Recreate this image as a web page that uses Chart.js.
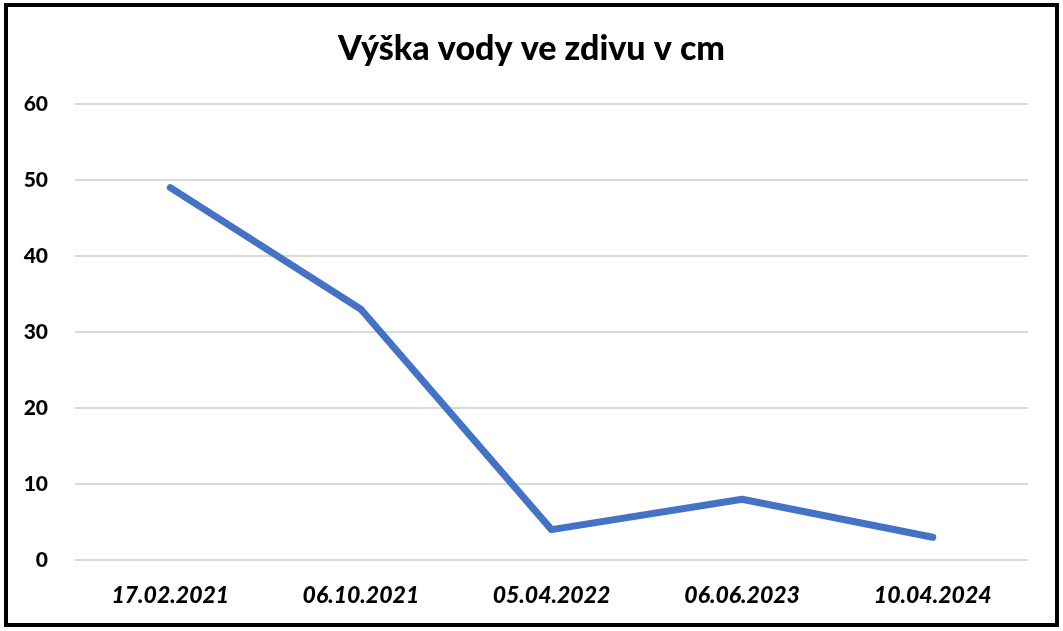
<!DOCTYPE html>
<html>
<head>
<meta charset="utf-8">
<script src="https://cdn.jsdelivr.net/npm/chart.js@4"></script>
<style>
  html, body { margin: 0; padding: 0; background: #fff; }
  #wrap { position: relative; width: 1063px; height: 631px; }
  canvas { position: absolute; left: 0; top: 0; }
  #frame { position: absolute; left: 4px; top: 3px; width: 1055px; height: 624px; box-sizing: border-box; border: 4px solid #000; pointer-events: none; }
</style>
</head>
<body>
<div id="wrap">
  <canvas id="c" width="1063" height="631"></canvas>
  <div id="frame"></div>
</div>
<script>
const chartTitle = "Výška vody ve zdivu v cm";
const categories = ["17.02.2021", "06.10.2021", "05.04.2022", "06.06.2023", "10.04.2024"];
const waterHeight = [49, 33, 4, 8, 3];
const yTicks = [0, 10, 20, 30, 40, 50, 60];

const FONT = "Lato, 'Open Sans', 'DejaVu Sans', sans-serif";

const centerTitle = {
  id: 'centerTitle',
  afterLayout(chart) {
    const t = chart.titleBlock;
    if (t) { t.left = 0; t.right = chart.width; t.width = chart.width; }
  }
};

new Chart(document.getElementById('c'), {
  type: 'line',
  data: {
    labels: categories,
    datasets: [{
      data: waterHeight,
      borderColor: '#4472C4',
      backgroundColor: '#4472C4',
      borderWidth: 7,
      pointRadius: 0,
      tension: 0,
      borderCapStyle: 'round',
      borderJoinStyle: 'round'
    }]
  },
  plugins: [centerTitle],
  options: {
    responsive: false,
    animation: false,
    layout: { padding: { left: 0, right: 35, top: 0, bottom: 0 } },
    plugins: {
      legend: { display: false },
      tooltip: { enabled: false },
      title: {
        display: true,
        text: chartTitle,
        color: '#000',
        font: { family: FONT, size: 34, weight: 900, lineHeight: 1.2 },
        padding: { top: 29, bottom: 34.2 }
      }
    },
    scales: {
      x: {
        offset: true,
        grid: { display: false, drawTicks: false },
        border: { display: false },
        ticks: {
          color: '#000',
          padding: 22,
          maxRotation: 0,
          font: { family: FONT, size: 23, weight: 900, style: 'italic' }
        },
        afterFit(scale) { scale.height = 71; }
      },
      y: {
        min: 0, max: 60,
        afterBuildTicks(scale) { scale.ticks = yTicks.map(v => ({ value: v })); },
        grid: { color: '#d9d9d9', lineWidth: 2, drawTicks: false },
        border: { display: false },
        ticks: {
          color: '#000',
          padding: 27,
          font: { family: FONT, size: 21, weight: 900 }
        },
        afterFit(scale) { scale.width = 75; }
      }
    }
  }
});
</script>
</body>
</html>
